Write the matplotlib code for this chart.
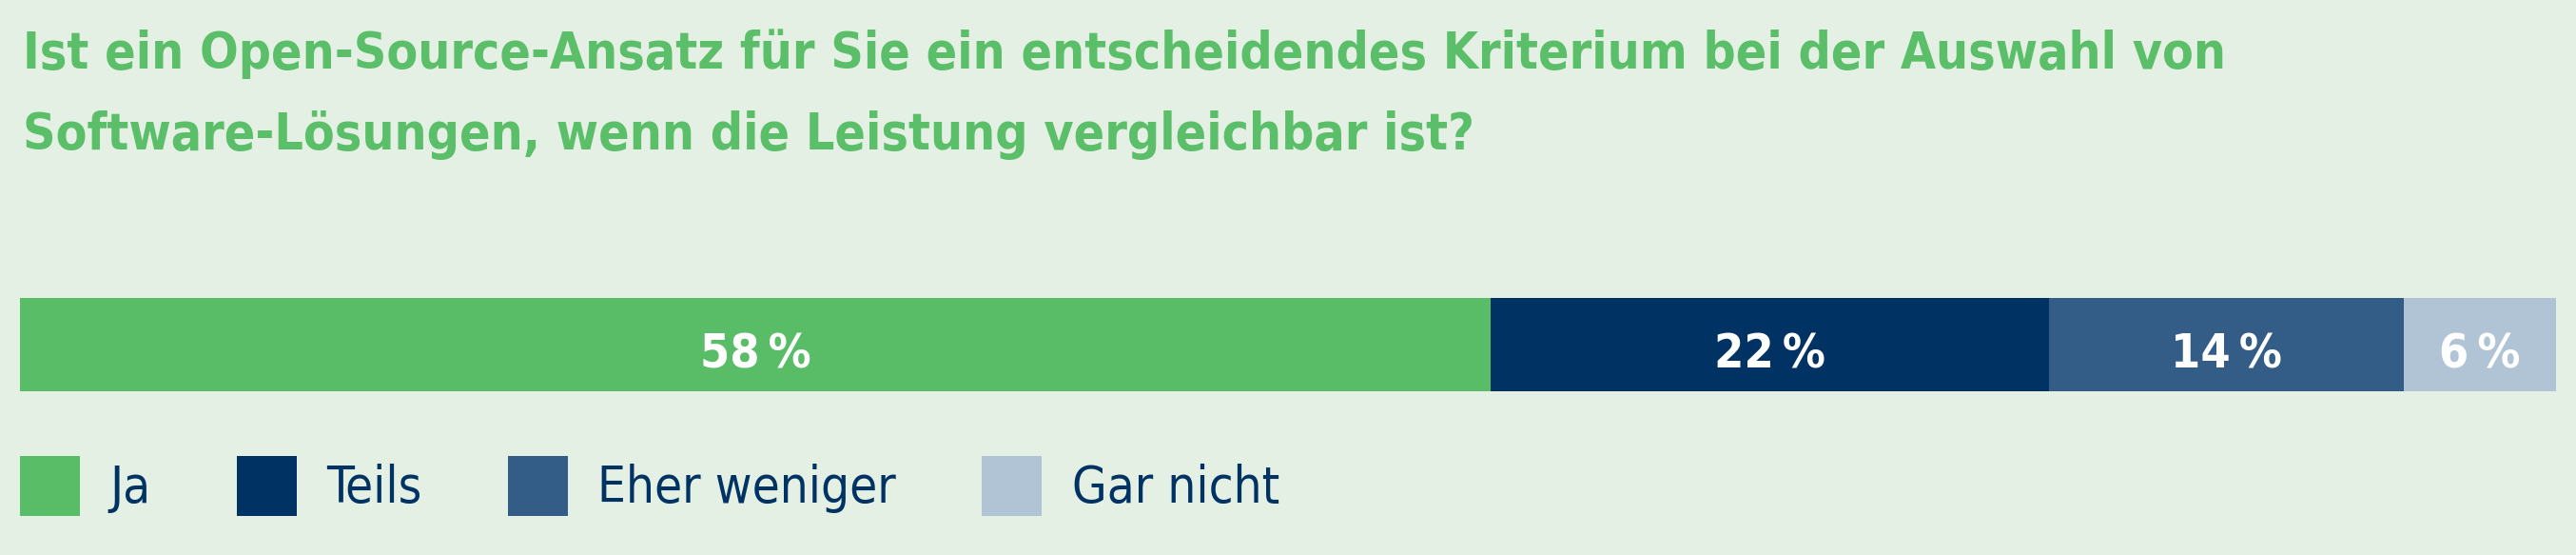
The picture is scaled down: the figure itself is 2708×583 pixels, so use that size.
import os
import matplotlib
matplotlib.use("Agg")
import matplotlib.pyplot as plt
from matplotlib import font_manager as fm
from matplotlib.font_manager import FontProperties

frage = [
    "Ist ein Open-Source-Ansatz für Sie ein entscheidendes Kriterium bei der Auswahl von",
    "Software-Lösungen, wenn die Leistung vergleichbar ist?",
]
antworten = ["Ja", "Teils", "Eher weniger", "Gar nicht"]
anteile = [58, 22, 14, 6]
farben = ["#58bd66", "#003363", "#335d86", "#b1c4d6"]

hintergrund = "#e5f0e4"
gruen = "#5bbe69"
navy = "#003363"

W, H = 2708, 583


def font_datei(*namen):
    for n in namen:
        for f in fm.fontManager.ttflist:
            if os.path.basename(f.fname) == n:
                return f.fname
    return None


def schrift(namen, family, weight):
    pfad = font_datei(*namen)
    if pfad:
        return FontProperties(fname=pfad)
    return FontProperties(family=family, weight=weight)


fp_titel = schrift(["DejaVuSansCondensed-Bold.ttf"], "Roboto", "medium")
fp_zahl = schrift(["DejaVuSansCondensed-Bold.ttf"], "Roboto", "bold")
fp_leg = schrift(["DejaVuSansCondensed.ttf"], "Roboto", "light")

fig = plt.figure(figsize=(W / 100, H / 100), dpi=100, facecolor=hintergrund)

# Frage oben
fig.text(24 / W, 1 - 72 / H, frage[0], color=gruen, fontproperties=fp_titel, size=38.4, va="baseline")
fig.text(24 / W, 1 - 157 / H, frage[1], color=gruen, fontproperties=fp_titel, size=38.4, va="baseline")

# gestapelter Balken
ax = fig.add_axes([21 / W, 1 - 411 / H, 2666 / W, 98 / H])
ax.set_xlim(0, sum(anteile))
ax.set_ylim(-0.5, 0.5)
ax.axis("off")

links = 0
balken = []
for name, wert, farbe in zip(antworten, anteile, farben):
    b = ax.barh(0, wert, left=links, height=1, color=farbe, label=name, linewidth=0)
    balken.append(b)
    ax.text(links + wert / 2, -0.25, f"{wert}\u2009%", ha="center", va="baseline",
            color="white", fontproperties=fp_zahl, size=36)
    links += wert

fp_leg.set_size(38)
leg = fig.legend(handles=balken, loc="upper left", bbox_to_anchor=(21 / W, 1 - 479 / H),
                 ncol=4, frameon=False, prop=fp_leg, labelcolor=navy,
                 handlelength=1.19, handleheight=1.46, handletextpad=0.6,
                 columnspacing=1.71, borderpad=0, borderaxespad=0)

fig.savefig("out.png", dpi=100, facecolor=hintergrund)
